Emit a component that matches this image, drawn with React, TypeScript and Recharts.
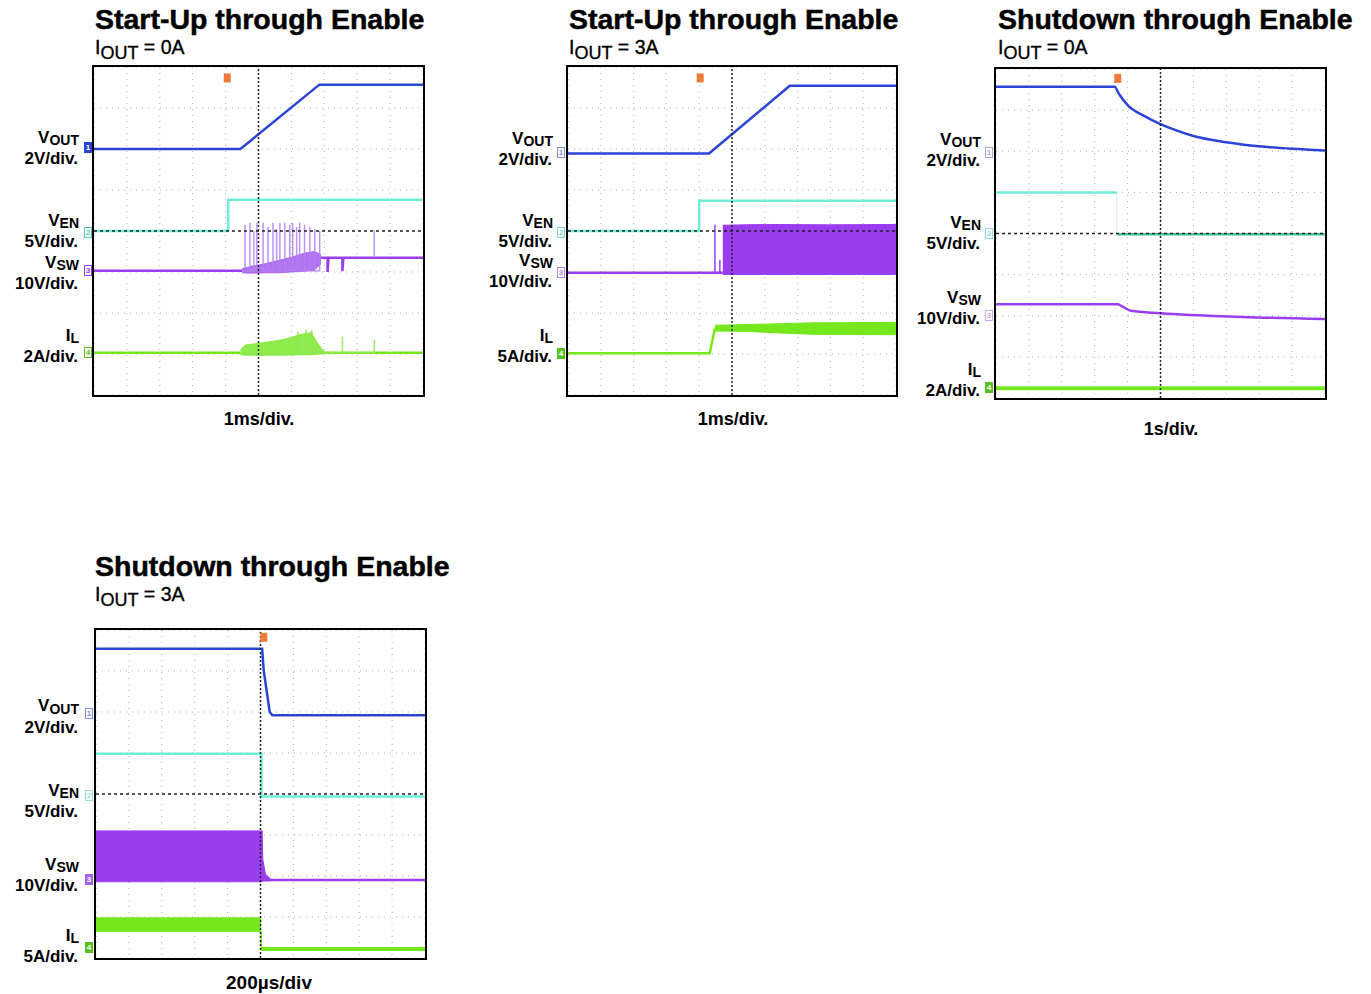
import React from 'react';
import { ComposedChart, Line, Area, XAxis, YAxis, CartesianGrid, ReferenceLine, Scatter } from 'recharts';

const FONT = '"Liberation Sans", Arial, Helvetica, sans-serif';
const C_VOUT = '#2b44d8';
const C_VEN = '#6eeed8';
const C_VSW = '#9a3cf0';
const C_IL = '#74e81c';
const C_TRIG = '#f07a3a';

// x in time divisions (0..10), y in vertical divisions (0..8, bottom = 0)
const xTicks = [0, 1, 2, 3, 4, 5, 6, 7, 8, 9, 10];
const yTicks = [0, 1, 2, 3, 4, 5, 6, 7, 8];

// ---------- Panel 1: Start-Up through Enable, IOUT = 0A ----------
const p1Vout = [{ t: 0, v: 6.0 }, { t: 4.45, v: 6.0 }, { t: 6.85, v: 7.57 }, { t: 10, v: 7.57 }];
const p1Ven = [{ t: 0, v: 4.0 }, { t: 4.08, v: 4.0 }, { t: 4.08, v: 4.76 }, { t: 10, v: 4.76 }];
const p1VswPre = [{ t: 0, v: 3.03 }, { t: 4.5, v: 3.03 }];
const p1VswBand = [
  { t: 4.5, lo: 2.98, hi: 3.08 }, { t: 4.8, lo: 2.97, hi: 3.14 }, { t: 5.2, lo: 2.98, hi: 3.2 },
  { t: 5.6, lo: 2.98, hi: 3.28 }, { t: 6.0, lo: 3.0, hi: 3.36 }, { t: 6.4, lo: 3.02, hi: 3.46 },
  { t: 6.7, lo: 3.05, hi: 3.5 }, { t: 6.9, lo: 3.2, hi: 3.42 },
];
const p1VswPost = [
  { t: 6.9, v: 3.35 }, { t: 7.1, v: 3.35 }, { t: 7.1, v: 3.0 }, { t: 7.13, v: 3.35 },
  { t: 7.55, v: 3.35 }, { t: 7.55, v: 3.02 }, { t: 7.58, v: 3.35 }, { t: 10, v: 3.35 },
];
const p1VswSpikes = [
  { t: 4.59, lo: 3.03, hi: 4.15 }, { t: 4.74, lo: 3.03, hi: 4.2 }, { t: 4.86, lo: 3.03, hi: 4.0 },
  { t: 4.95, lo: 3.03, hi: 4.2 }, { t: 5.14, lo: 3.03, hi: 4.2 }, { t: 5.29, lo: 3.03, hi: 4.1 },
  { t: 5.44, lo: 3.03, hi: 4.2 }, { t: 5.55, lo: 3.03, hi: 4.05 }, { t: 5.65, lo: 3.03, hi: 4.2 },
  { t: 5.8, lo: 3.03, hi: 4.2 }, { t: 5.95, lo: 3.03, hi: 4.15 }, { t: 6.04, lo: 3.03, hi: 4.2 },
  { t: 6.16, lo: 3.03, hi: 4.1 }, { t: 6.25, lo: 3.03, hi: 4.2 }, { t: 6.4, lo: 3.03, hi: 4.15 },
  { t: 6.56, lo: 3.03, hi: 4.1 }, { t: 6.71, lo: 3.03, hi: 4.05 }, { t: 6.86, lo: 3.03, hi: 4.0 },
];
const p1VswSpikesLate = [{ t: 8.52, lo: 3.35, hi: 4.02 }];
const p1IlPre = [{ t: 0, v: 1.03 }, { t: 4.45, v: 1.03 }];
const p1IlBand = [
  { t: 4.45, lo: 0.98, hi: 1.1 }, { t: 4.6, lo: 0.97, hi: 1.22 }, { t: 5.2, lo: 0.97, hi: 1.28 },
  { t: 5.8, lo: 0.97, hi: 1.36 }, { t: 6.3, lo: 0.98, hi: 1.48 }, { t: 6.6, lo: 0.98, hi: 1.52 },
  { t: 6.85, lo: 1.0, hi: 1.2 }, { t: 7.0, lo: 1.0, hi: 1.06 },
];
const p1IlPost = [{ t: 7.0, v: 1.03 }, { t: 10, v: 1.03 }];
const p1IlSpikes = [
  { t: 6.2, lo: 1.03, hi: 1.55 }, { t: 6.45, lo: 1.03, hi: 1.6 }, { t: 6.62, lo: 1.03, hi: 1.58 },
  { t: 7.55, lo: 1.03, hi: 1.42 }, { t: 8.52, lo: 1.03, hi: 1.35 },
];
const p1Trig = [{ t: 4.05, v: 7.72 }];

// ---------- Panel 2: Start-Up through Enable, IOUT = 3A ----------
const p2Vout = [{ t: 0, v: 5.89 }, { t: 4.3, v: 5.89 }, { t: 6.76, v: 7.54 }, { t: 10, v: 7.54 }];
const p2Ven = [{ t: 0, v: 4.0 }, { t: 4.0, v: 4.0 }, { t: 4.0, v: 4.74 }, { t: 10, v: 4.74 }];
const p2VswPre = [{ t: 0, v: 2.98 }, { t: 4.72, v: 2.98 }];
const p2VswSpikes = [{ t: 4.48, lo: 2.98, hi: 4.15 }, { t: 4.63, lo: 2.98, hi: 3.3 }];
const p2VswBand = [
  { t: 4.72, lo: 2.94, hi: 4.14 }, { t: 6, lo: 2.94, hi: 4.16 }, { t: 8, lo: 2.94, hi: 4.15 }, { t: 10, lo: 2.94, hi: 4.16 },
];
const p2IlPre = [{ t: 0, v: 1.02 }, { t: 4.32, v: 1.02 }, { t: 4.48, v: 1.62 }];
const p2IlBand = [
  { t: 4.48, lo: 1.56, hi: 1.7 }, { t: 5.5, lo: 1.55, hi: 1.72 }, { t: 6.5, lo: 1.51, hi: 1.74 },
  { t: 7.5, lo: 1.48, hi: 1.76 }, { t: 10, lo: 1.47, hi: 1.77 },
];
const p2Trig = [{ t: 4.03, v: 7.72 }];

// ---------- Panel 3: Shutdown through Enable, IOUT = 0A ----------
const p3Vout = [
  { t: 0, v: 7.57 }, { t: 3.6, v: 7.57 }, { t: 3.75, v: 7.38 }, { t: 4.0, v: 7.12 }, { t: 4.5, v: 6.86 },
  { t: 5.0, v: 6.66 }, { t: 5.5, v: 6.5 }, { t: 6.0, v: 6.37 }, { t: 7.0, v: 6.22 }, { t: 8.0, v: 6.12 },
  { t: 9.0, v: 6.06 }, { t: 10, v: 6.02 },
];
const p3VenHigh = [{ t: 0, v: 5.0 }, { t: 3.67, v: 5.0 }];
const p3VenEdge = [{ t: 3.67, v: 5.0 }, { t: 3.67, v: 3.98 }];
const p3VenLow = [{ t: 3.67, v: 3.98 }, { t: 10, v: 3.98 }];
const p3Vsw = [
  { t: 0, v: 2.28 }, { t: 3.7, v: 2.28 }, { t: 3.85, v: 2.22 }, { t: 4.1, v: 2.12 }, { t: 5.0, v: 2.06 },
  { t: 7.5, v: 1.97 }, { t: 10, v: 1.92 },
];
const p3Il = [{ t: 0, v: 0.24 }, { t: 10, v: 0.24 }];
const p3Trig = [{ t: 3.7, v: 7.76 }];

// ---------- Panel 4: Shutdown through Enable, IOUT = 3A ----------
const p4Vout = [
  { t: 0, v: 7.54 }, { t: 5.05, v: 7.54 }, { t: 5.1, v: 7.0 }, { t: 5.28, v: 6.0 }, { t: 5.36, v: 5.92 }, { t: 10, v: 5.92 },
];
const p4Ven = [{ t: 0, v: 4.98 }, { t: 5.03, v: 4.98 }, { t: 5.03, v: 3.94 }, { t: 10, v: 3.94 }];
const p4VswBand = [
  { t: 0, lo: 1.86, hi: 3.1 }, { t: 5.05, lo: 1.86, hi: 3.1 }, { t: 5.07, lo: 1.88, hi: 2.4 },
  { t: 5.15, lo: 1.88, hi: 2.05 }, { t: 5.3, lo: 1.88, hi: 1.93 },
];
const p4VswPost = [{ t: 5.05, v: 1.9 }, { t: 10, v: 1.9 }];
const p4IlBand = [{ t: 0, lo: 0.65, hi: 0.98 }, { t: 5.02, lo: 0.65, hi: 0.98 }];
const p4IlEdge = [{ t: 5.02, v: 0.65 }, { t: 5.02, v: 0.22 }];
const p4IlPost = [{ t: 5.02, v: 0.22 }, { t: 10, v: 0.22 }];
const p4Trig = [{ t: 5.1, v: 7.81 }];

type Pt = { t: number; v: number };
type Rng = { t: number; lo: number; hi: number };
type LineSpec = { data: Pt[]; color: string; width?: number; opacity?: number; curve?: 'linear' | 'monotone' };
type BandSpec = { data: Rng[]; color: string; opacity?: number };

// turn a list of spikes into a polyline going up and down at each spike position
const spikeLine = (s: Rng[]): Pt[] => s.flatMap((p) => [{ t: p.t, v: p.lo }, { t: p.t, v: p.hi }, { t: p.t, v: p.lo }]);

type Box = { x: number; y: number; w: number; h: number };

function Scope({ box, lines, bands, trig }: { box: Box; lines: LineSpec[]; bands: BandSpec[]; trig: Pt[] }) {
  return (
    <div
      style={{
        position: 'absolute', left: box.x, top: box.y, width: box.w, height: box.h,
        border: '2px solid #000', boxSizing: 'border-box', background: '#fff',
      }}
    >
      <ComposedChart width={box.w - 4} height={box.h - 4} margin={{ top: 0, right: 0, bottom: 0, left: 0 }}>
        <XAxis type="number" dataKey="t" domain={[0, 10]} ticks={xTicks} hide allowDataOverflow />
        <YAxis type="number" domain={[0, 8]} ticks={yTicks} hide allowDataOverflow />
        <CartesianGrid stroke="#b0b0b0" strokeDasharray="1 5" strokeWidth={1} />
        {bands.map((b, i) => (
          <Area
            key={'b' + i}
            data={b.data}
            dataKey={(d: Rng) => [d.lo, d.hi]}
            type="linear"
            stroke={b.color}
            strokeWidth={1}
            fill={b.color}
            fillOpacity={b.opacity ?? 1}
            strokeOpacity={b.opacity ?? 1}
            isAnimationActive={false}
            dot={false}
            activeDot={false}
          />
        ))}
        {lines.map((l, i) => (
          <Line
            key={'l' + i}
            data={l.data}
            dataKey="v"
            type={l.curve ?? 'linear'}
            stroke={l.color}
            strokeWidth={l.width ?? 2.5}
            strokeOpacity={l.opacity ?? 1}
            dot={false}
            activeDot={false}
            isAnimationActive={false}
          />
        ))}
        <ReferenceLine x={5} stroke="#222" strokeDasharray="2 2" strokeWidth={1.5} />
        <ReferenceLine y={4} stroke="#222" strokeDasharray="3 3" strokeWidth={1.4} />
        <Scatter
          data={trig}
          dataKey="v"
          isAnimationActive={false}
          shape={(p: any) => <rect x={p.cx - 3.5} y={p.cy - 5} width={7} height={9} fill={C_TRIG} />}
        />
      </ComposedChart>
    </div>
  );
}

const baseTop = (baseline: number, size: number) => baseline - 0.8465 * size;

function Title({ x, baseline, text }: { x: number; baseline: number; text: string }) {
  return (
    <div
      style={{
        position: 'absolute', left: x, top: baseTop(baseline, 28.5), fontFamily: FONT, fontWeight: 700, fontSize: 28.5,
        lineHeight: '28.5px', whiteSpace: 'nowrap', color: '#000', WebkitTextStroke: '0.5px #000',
      }}
    >
      {text}
    </div>
  );
}

function Sub({ x, baseline, value }: { x: number; baseline: number; value: string }) {
  return (
    <div
      style={{
        position: 'absolute', left: x, top: baseTop(baseline, 19.5), fontFamily: FONT, fontSize: 19.5, lineHeight: '19.5px',
        whiteSpace: 'nowrap', color: '#000', WebkitTextStroke: '0.35px #000',
      }}
    >
      I<span style={{ position: 'relative', top: 5, fontSize: 18, lineHeight: 0 }}>OUT</span> = {value}
    </div>
  );
}

// two-line channel label; b1 = baseline of the first line, b2 = baseline of the second line
function SideLabel({ right, b1, b2, main, sub, scale }: { right: number; b1: number; b2: number; main: string; sub: string; scale: string }) {
  const L = b2 - b1;
  const F = 17;
  return (
    <div
      style={{
        position: 'absolute', left: right - 200, width: 200, textAlign: 'right', top: b1 - L / 2 - 0.3465 * F,
        fontFamily: FONT, fontWeight: 700, fontSize: F, lineHeight: L + 'px', whiteSpace: 'nowrap', color: '#000',
      }}
    >
      {main}
      <span style={{ position: 'relative', top: 2.5, fontSize: 14, lineHeight: 0 }}>{sub}</span>
      <br />
      <span style={{ paddingRight: 1 }}>{scale}</span>
    </div>
  );
}

function Bottom({ cx, baseline, text, size }: { cx: number; baseline: number; text: string; size: number }) {
  return (
    <div style={{ position: 'absolute', left: cx - 100, width: 200, textAlign: 'center', top: baseTop(baseline, size), fontFamily: FONT, fontWeight: 700, fontSize: size, lineHeight: size + 'px', color: '#000' }}>
      {text}
    </div>
  );
}

function Marker({ x, y, color, n, solid }: { x: number; y: number; color: string; n: string; solid?: boolean }) {
  return (
    <div
      style={{
        position: 'absolute', left: x, top: y - 6, width: 8, height: 11, boxSizing: 'border-box',
        border: `1px solid ${color}`, background: solid ? color : '#fff', color: solid ? '#fff' : color,
        fontFamily: FONT, fontSize: 8, lineHeight: '9px', textAlign: 'center', fontWeight: 700,
      }}
    >
      {n}
    </div>
  );
}

export default function App() {
  return (
    <div style={{ position: 'absolute', left: 0, top: 0, width: 1371, height: 994, background: '#fff', overflow: 'hidden' }}>
      {/* Panel 1 */}
      <Title x={95} baseline={29.5} text="Start-Up through Enable" />
      <Sub x={95} baseline={54.5} value="0A" />
      <SideLabel right={79} b1={143} b2={164} main="V" sub="OUT" scale="2V/div." />
      <SideLabel right={79} b1={226} b2={247} main="V" sub="EN" scale="5V/div." />
      <SideLabel right={79} b1={268} b2={289} main="V" sub="SW" scale="10V/div." />
      <SideLabel right={79} b1={341} b2={362} main="I" sub="L" scale="2A/div." />
      <Marker x={84} y={148} color={C_VOUT} n="1" solid />
      <Marker x={84} y={233} color="#5cc8b8" n="2" />
      <Marker x={84} y={271} color={C_VSW} n="3" />
      <Marker x={84} y={353} color="#55c020" n="4" />
      <Scope
        box={{ x: 92, y: 65, w: 333, h: 332 }}
        bands={[{ data: p1VswBand, color: '#a050f0', opacity: 0.8 }, { data: p1IlBand, color: '#7ce830', opacity: 0.85 }]}
        lines={[
          { data: p1Vout, color: C_VOUT },
          { data: p1Ven, color: C_VEN },
          { data: p1VswPre, color: C_VSW },
          { data: p1VswPost, color: C_VSW },
          { data: spikeLine(p1VswSpikes), color: '#b080f0', width: 1.5, opacity: 0.85 },
          { data: spikeLine(p1VswSpikesLate), color: '#b080f0', width: 1.5, opacity: 0.85 },
          { data: p1IlPre, color: C_IL },
          { data: p1IlPost, color: C_IL },
          { data: spikeLine(p1IlSpikes), color: '#8ce850', width: 1.5, opacity: 0.9 },
        ]}
        trig={p1Trig}
      />
      <Bottom cx={259} baseline={425} text="1ms/div." size={18} />

      {/* Panel 2 */}
      <Title x={569} baseline={29.5} text="Start-Up through Enable" />
      <Sub x={569} baseline={54.5} value="3A" />
      <SideLabel right={553} b1={144} b2={165} main="V" sub="OUT" scale="2V/div." />
      <SideLabel right={553} b1={226} b2={247} main="V" sub="EN" scale="5V/div." />
      <SideLabel right={553} b1={266} b2={287} main="V" sub="SW" scale="10V/div." />
      <SideLabel right={553} b1={341} b2={362} main="I" sub="L" scale="5A/div." />
      <Marker x={557} y={153} color="#8090e0" n="1" />
      <Marker x={557} y={233} color="#7cd8c8" n="2" />
      <Marker x={557} y={273} color="#b080f0" n="3" />
      <Marker x={557} y={354} color="#55c020" n="4" solid />
      <Scope
        box={{ x: 566, y: 65, w: 332, h: 332 }}
        bands={[{ data: p2VswBand, color: C_VSW }, { data: p2IlBand, color: C_IL }]}
        lines={[
          { data: p2Vout, color: C_VOUT },
          { data: p2Ven, color: C_VEN },
          { data: p2VswPre, color: C_VSW },
          { data: spikeLine(p2VswSpikes), color: C_VSW, width: 1.5 },
          { data: p2IlPre, color: C_IL },
        ]}
        trig={p2Trig}
      />
      <Bottom cx={733} baseline={425} text="1ms/div." size={18} />

      {/* Panel 3 */}
      <Title x={998} baseline={29.5} text="Shutdown through Enable" />
      <Sub x={998} baseline={54.5} value="0A" />
      <SideLabel right={981} b1={145} b2={166} main="V" sub="OUT" scale="2V/div." />
      <SideLabel right={981} b1={228} b2={249} main="V" sub="EN" scale="5V/div." />
      <SideLabel right={981} b1={303} b2={324} main="V" sub="SW" scale="10V/div." />
      <SideLabel right={981} b1={375} b2={396} main="I" sub="L" scale="2A/div." />
      <Marker x={985} y={153} color="#a0a8e8" n="1" />
      <Marker x={985} y={234} color="#90e0d0" n="2" />
      <Marker x={985} y={316} color="#c8a8f0" n="3" />
      <Marker x={985} y={388} color="#55c020" n="4" solid />
      <Scope
        box={{ x: 994, y: 67, w: 333, h: 333 }}
        bands={[]}
        lines={[
          { data: p3Vout, color: C_VOUT, curve: 'monotone' },
          { data: p3VenHigh, color: C_VEN },
          { data: p3VenEdge, color: '#9fd8c8', width: 1, opacity: 0.5 },
          { data: p3VenLow, color: '#3cc8a0' },
          { data: p3Vsw, color: C_VSW, curve: 'monotone' },
          { data: p3Il, color: C_IL, width: 4 },
        ]}
        trig={p3Trig}
      />
      <Bottom cx={1171} baseline={435} text="1s/div." size={18} />

      {/* Panel 4 */}
      <Title x={95} baseline={576} text="Shutdown through Enable" />
      <Sub x={95} baseline={601.5} value="3A" />
      <SideLabel right={79} b1={712} b2={734} main="V" sub="OUT" scale="2V/div." />
      <SideLabel right={79} b1={796} b2={817} main="V" sub="EN" scale="5V/div." />
      <SideLabel right={79} b1={870} b2={891} main="V" sub="SW" scale="10V/div." />
      <SideLabel right={79} b1={941} b2={962} main="I" sub="L" scale="5A/div." />
      <Marker x={85} y={714} color="#8090e0" n="1" />
      <Marker x={85} y={796} color="#90e0d0" n="2" />
      <Marker x={85} y={880} color="#a060f0" n="3" solid />
      <Marker x={85} y={948} color="#55c020" n="4" solid />
      <Scope
        box={{ x: 94, y: 628, w: 333, h: 332 }}
        bands={[{ data: p4VswBand, color: C_VSW }, { data: p4IlBand, color: C_IL }]}
        lines={[
          { data: p4Vout, color: C_VOUT },
          { data: p4Ven, color: C_VEN },
          { data: p4VswPost, color: C_VSW },
          { data: p4IlEdge, color: C_IL, width: 1.5 },
          { data: p4IlPost, color: C_IL, width: 4 },
        ]}
        trig={p4Trig}
      />
      <Bottom cx={269} baseline={989} text="200µs/div" size={19} />
    </div>
  );
}
